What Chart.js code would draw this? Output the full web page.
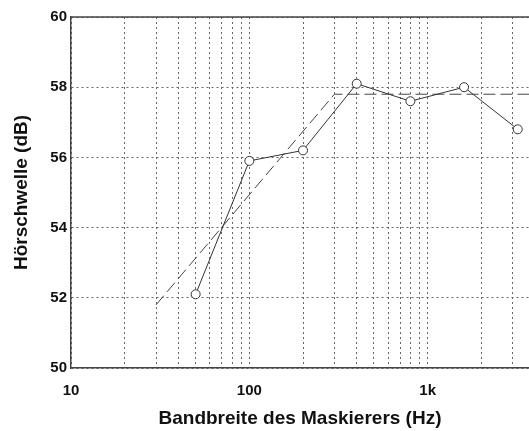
<!DOCTYPE html>
<html>
<head>
<meta charset="utf-8">
<script src="https://cdn.jsdelivr.net/npm/chart.js@4/dist/chart.umd.min.js"></script>
<style>
  html, body { margin: 0; padding: 0; background: #fff; }
  #wrap { width: 529px; height: 431px; }
</style>
</head>
<body>
<div id="wrap"><canvas id="chart"></canvas></div>
<script>
// measured points
let bandwidth = [50, 100, 200, 400, 800, 1600, 3200];
let threshold = [52.1, 55.9, 56.2, 58.1, 57.6, 58.0, 56.8];

// dashed model line
let modelBandwidth = [30, 300, 3700];
let modelThreshold = [51.8, 57.8, 57.8];

// axis ticks
let xTicks = [10, 20, 30, 40, 50, 60, 70, 80, 90, 100, 200, 300, 400, 500, 600, 700, 800, 900, 1000, 2000, 3000];
let xTickLabels = { 10: "10", 100: "100", 1000: "1k" };
let xMin = 10;
let xMax = 3700;
let yMin = 50;
let yMax = 60;

function toPoints(xs, ys) {
  return xs.map((x, i) => ({ x: x, y: ys[i] }));
}

// solid frame line on top of the plot
let topFrame = {
  id: "topFrame",
  afterDraw(chart) {
    let ctx = chart.ctx;
    let a = chart.chartArea;
    ctx.save();
    ctx.strokeStyle = "#444";
    ctx.lineWidth = 1.5;
    ctx.beginPath();
    ctx.moveTo(a.left, a.top);
    ctx.lineTo(a.right, a.top);
    ctx.stroke();
    ctx.restore();
  },
};

let font = "'Liberation Sans', Arial, sans-serif";

let ctx = document.getElementById("chart").getContext("2d");
let chart = new Chart(ctx, {
  type: "line",
  data: {
    datasets: [
      {
        label: "Messung",
        data: toPoints(bandwidth, threshold),
        borderColor: "#333",
        borderWidth: 1,
        pointRadius: 4.5,
        pointBorderWidth: 1,
        pointBorderColor: "#333",
        pointBackgroundColor: "#fff",
        fill: false,
        tension: 0,
      },
      {
        label: "Modell",
        data: toPoints(modelBandwidth, modelThreshold),
        borderColor: "#444",
        borderWidth: 1,
        borderDash: [12, 5],
        pointRadius: 0,
        fill: false,
        tension: 0,
      },
    ],
  },
  plugins: [topFrame],
  options: {
    responsive: true,
    maintainAspectRatio: false,
    animation: false,
    layout: { autoPadding: false, padding: { top: 17, right: 0, left: 0, bottom: 0 } },
    plugins: {
      legend: { display: false },
      tooltip: { enabled: false },
    },
    scales: {
      x: {
        type: "logarithmic",
        min: xMin,
        max: xMax,
        afterBuildTicks: (scale) => {
          scale.ticks = xTicks.map((v) => ({ value: v }));
        },
        afterFit: (scale) => {
          scale.height = 63;
          scale.paddingRight = 0;
        },
        ticks: {
          autoSkip: false,
          maxRotation: 0,
          padding: 14,
          color: "#111",
          font: { family: font, size: 15, weight: "bold" },
          callback: (value) => xTickLabels[value] || "",
        },
        grid: { color: "#666", lineWidth: 1, drawTicks: false },
        border: { display: true, color: "#444", width: 1.5, dash: [2, 3] },
        title: {
          display: true,
          text: "Bandbreite des Maskierers (Hz)",
          color: "#111",
          font: { family: font, size: 19, weight: "bold" },
          padding: { top: 0, bottom: 1 },
        },
      },
      y: {
        min: yMin,
        max: yMax,
        afterFit: (scale) => {
          scale.width = 71;
        },
        ticks: {
          stepSize: 2,
          padding: 4,
          color: "#111",
          font: { family: font, size: 15, weight: "bold" },
        },
        grid: { color: "#666", lineWidth: 1, drawTicks: false },
        border: { display: true, color: "#444", width: 1.5, dash: [2, 3] },
        title: {
          display: true,
          text: "Hörschwelle (dB)",
          color: "#111",
          font: { family: font, size: 19, weight: "bold" },
          padding: { top: 10, bottom: 0 },
        },
      },
    },
  },
});
</script>
</body>
</html>
